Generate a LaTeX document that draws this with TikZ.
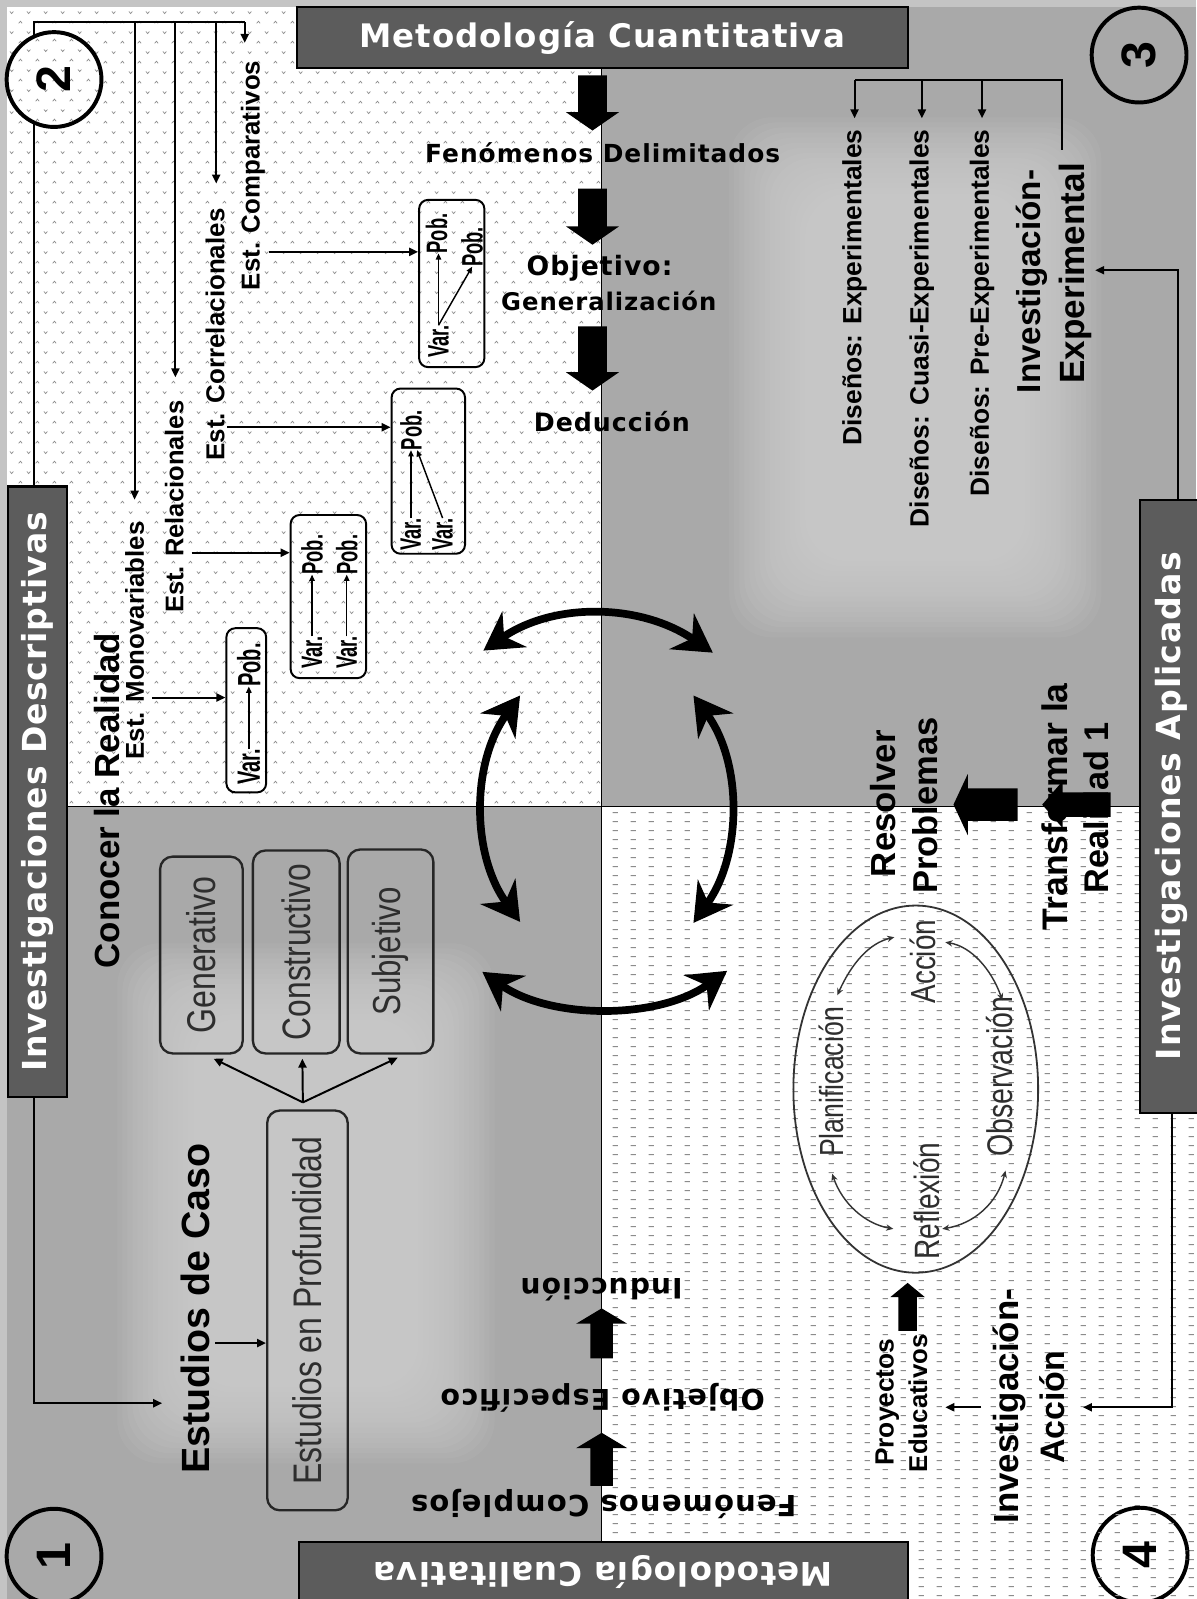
\documentclass[tikz,border=0pt]{standalone}
\usepackage{fontspec}
\usepackage{graphicx}
\usetikzlibrary{arrows.meta,patterns,shapes.geometric,calc}
\setmainfont{Liberation Sans}
\newfontfamily\fN[FakeStretch=0.8]{Liberation Sans}
\newfontfamily\fV[FakeStretch=0.62]{Liberation Sans}
\newfontfamily\fT[LetterSpace=4]{DejaVu Sans}
\newfontfamily\fH[LetterSpace=3]{DejaVu Sans}

\definecolor{framec}{HTML}{C4C4C4}
\definecolor{qgray}{HTML}{A9A9A9}
\definecolor{qlight}{HTML}{D6D6D6}
\definecolor{barfill}{HTML}{5C5C5C}
\definecolor{inktxt}{HTML}{2E2E2E}

% small caret marks for the upper-left quadrant
\pgfdeclarepatternformonly{carets}{\pgfqpoint{0pt}{0pt}}{\pgfqpoint{9.6pt}{11.2pt}}{\pgfqpoint{9.6pt}{11.2pt}}{%
  \pgfsetlinewidth{0.4pt}%
  \pgfpathmoveto{\pgfqpoint{1pt}{8pt}}\pgfpathlineto{\pgfqpoint{2pt}{9.2pt}}\pgfpathlineto{\pgfqpoint{3pt}{8pt}}%
  \pgfpathmoveto{\pgfqpoint{5.8pt}{3.2pt}}\pgfpathlineto{\pgfqpoint{6.8pt}{2pt}}\pgfpathlineto{\pgfqpoint{7.8pt}{3.2pt}}%
  \pgfusepath{stroke}}
% short dashes for the lower-right quadrant
\pgfdeclarepatternformonly{dashmarks}{\pgfqpoint{0pt}{0pt}}{\pgfqpoint{10pt}{5.2pt}}{\pgfqpoint{10pt}{5.2pt}}{%
  \pgfsetlinewidth{0.5pt}%
  \pgfpathmoveto{\pgfqpoint{2pt}{2.6pt}}\pgfpathlineto{\pgfqpoint{5pt}{2.6pt}}%
  \pgfusepath{stroke}}

\newlength\U \setlength\U{0.02cm}
\newcommand\pxu[1]{#1*0.02cm}
\newcommand\fitw[2]{\resizebox{#1\U}{!}{#2}}
\newcommand\upw[2]{\rotatebox{90}{\fitw{#1}{#2}}}
\newcommand\flipw[2]{\rotatebox{180}{\fitw{#1}{#2}}}
% block arrow: tip coordinate, direction, total length, head length, shaft half width, head half width
\newcommand\blockarrow[6]{%
  \fill[shift={(#1)},rotate=#2] (0,0) -- (-#4,#6) -- (-#4,#5) -- (-#3,#5) -- (-#3,-#5) -- (-#4,-#5) -- (-#4,-#6) -- cycle;}
% soft lighter patch built from many faint layers: left, top, right, bottom
\newcommand\softpatch[4]{%
  \foreach \k in {0,...,15}
    \fill[qlight,opacity=0.085,rounded corners=24pt] (#1-\k*5,#2-\k*5) rectangle (#3+\k*5,#4+\k*5);}

\begin{document}
\begin{tikzpicture}[x=0.02cm,y=-0.02cm,
  lab/.style={inner sep=0pt,outer sep=0pt},
  conn/.style={line width=1.1pt,black},
  tri/.style={-{Triangle[length=5pt,width=4.5pt]}},
  mini/.style={line width=0.8pt,black,-{Triangle[length=3.5pt,width=3pt]}},
  qbox/.style={draw=black,line width=1.1pt,rounded corners=5pt,inner sep=0pt},
  gbox/.style={draw=black!85,line width=1.3pt,rounded corners=7pt,inner sep=0pt,text=inktxt},
  bar/.style={draw=black,line width=1.2pt,fill=barfill,inner sep=0pt,text=white},
  num/.style={draw=black,line width=2.2pt,circle,inner sep=0pt,minimum size={\pxu{93}}},
  bigarc/.style={line width=4.3pt,{Stealth[length=21pt,width=24pt,inset=7pt]}-{Stealth[length=21pt,width=24pt,inset=7pt]}},
  ring/.style={line width=0.8pt,black!80,{Stealth[length=4pt,width=3.5pt]}-{Stealth[length=4pt,width=3.5pt]}},
]
\useasboundingbox (0,0) rectangle (1173,1568);

% ---------- quadrant backgrounds ----------
\fill[framec] (0,0) rectangle (1173,1568);
\fill[white] (7,7) rectangle (590,791);
\fill[pattern=carets,pattern color=black!45] (7,7) rectangle (590,791);
\fill[white] (590,791) rectangle (1173,1568);
\fill[pattern=dashmarks,pattern color=black!45] (590,791) rectangle (1173,1568);
\fill[qgray] (590,7) rectangle (1173,791);
\fill[qgray] (7,791) rectangle (590,1568);
\begin{scope}
  \clip (590,7) rectangle (1173,791);
  \softpatch{790}{190}{1005}{550}
\end{scope}
\begin{scope}
  \clip (7,791) rectangle (590,1568);
  \softpatch{190}{1000}{410}{1360}
\end{scope}
\draw[line width=0.9pt] (590,60) -- (590,1515);
\draw[line width=0.9pt] (60,791) -- (1120,791);

% ---------- title bars ----------
\node[bar,minimum width={\pxu{599}},minimum height={\pxu{60}}] (hdrCuan) at (590.5,37)
  {\fitw{476}{\fH\bfseries Metodología Cuantitativa}};
\node[bar,minimum width={\pxu{597}},minimum height={\pxu{60}}] (hdrCual) at (591.5,1542)
  {\flipw{450}{\fH\bfseries Metodología Cualitativa}};
\node[bar,minimum width={\pxu{58}},minimum height={\pxu{599}}] (barDesc) at (37,776.5)
  {\upw{549}{\fH\bfseries Investigaciones Descriptivas}};
\node[bar,minimum width={\pxu{62}},minimum height={\pxu{601}}] (barApl) at (1149,790.5)
  {\upw{498}{\fH\bfseries Investigaciones Aplicadas}};

% ---------- descriptive studies tree ----------
\coordinate (tr0) at (33,22);
\coordinate (tMono) at (132,490);
\coordinate (tRel) at (172,370);
\coordinate (tCorr) at (212,180);
\coordinate (tComp) at (240,42);
\draw[conn] (tr0 |- barDesc.north) -- (tr0) -- (tr0 -| tComp);
\foreach \t in {tMono,tRel,tCorr,tComp} \draw[conn,tri] (tr0 -| \t) -- (\t);

\node[lab] (lblMono) at (132,628) {\upw{233}{\bfseries Est. Monovariables}};
\node[lab] (lblRel) at (171,497) {\upw{208}{\bfseries Est. Relacionales}};
\node[lab] (lblCorr) at (211,328) {\upw{247}{\bfseries Est. Correlacionales}};
\node[lab] (lblComp) at (248,172) {\upw{225}{\bfseries Est. Comparativos}};
\node[lab] (conocer) at (105,785) {\upw{329}{\bfseries Conocer la Realidad}};

\node[qbox,minimum width={\pxu{39}},minimum height={\pxu{161}}] (box1) at (241.5,696.5) {};
\node[qbox,minimum width={\pxu{74}},minimum height={\pxu{160}}] (box2) at (322,585) {};
\node[qbox,minimum width={\pxu{72}},minimum height={\pxu{162}}] (box3) at (420,462) {};
\node[qbox,minimum width={\pxu{64}},minimum height={\pxu{164}}] (box4) at (443,278) {};

\coordinate (aMono) at (149,684);
\coordinate (aRel) at (188,542);
\coordinate (aCorr) at (223,419);
\coordinate (aComp) at (264,247);
\draw[conn,tri] (aMono) -- (aMono -| box1.west);
\draw[conn,tri] (aRel) -- (aRel -| box2.west);
\draw[conn,tri] (aCorr) -- (aCorr -| box3.west);
\draw[conn,tri] (aComp) -- (aComp -| box4.west);

\node[lab] (v1) at (244,752) {\rotatebox{90}{\fontsize{18}{18}\fV\bfseries Var.}};
\node[lab] (p1) at (244,652) {\rotatebox{90}{\fontsize{18}{18}\fV\bfseries Pob.}};
\draw[mini] (v1.north) -- (p1.south);
\node[lab] (v2a) at (306,640) {\rotatebox{90}{\fontsize{16.5}{16.5}\fV\bfseries Var.}};
\node[lab] (p2a) at (306,544) {\rotatebox{90}{\fontsize{16.5}{16.5}\fV\bfseries Pob.}};
\node[lab] (v2b) at (340,640) {\rotatebox{90}{\fontsize{16.5}{16.5}\fV\bfseries Var.}};
\node[lab] (p2b) at (340,544) {\rotatebox{90}{\fontsize{16.5}{16.5}\fV\bfseries Pob.}};
\draw[mini] (v2a.north) -- (p2a.south);
\draw[mini] (v2b.north) -- (p2b.south);
\node[lab] (p3) at (403,422) {\rotatebox{90}{\fontsize{16.5}{16.5}\fV\bfseries Pob.}};
\node[lab] (v3a) at (403,524) {\rotatebox{90}{\fontsize{16.5}{16.5}\fV\bfseries Var.}};
\node[lab] (v3b) at (434,524) {\rotatebox{90}{\fontsize{16.5}{16.5}\fV\bfseries Var.}};
\draw[mini] (v3a.north) -- (v3a.north |- p3.south);
\draw[mini] (v3b.north) -- ($(p3.south)+(6,0)$);
\node[lab] (v4) at (430,335) {\rotatebox{90}{\fontsize{16.5}{16.5}\fV\bfseries Var.}};
\node[lab] (p4a) at (428,229) {\rotatebox{90}{\fontsize{16.5}{16.5}\fV\bfseries Pob.}};
\node[lab] (p4b) at (463,242) {\rotatebox{90}{\fontsize{16.5}{16.5}\fV\bfseries Pob.}};
\draw[mini] (v4.north) -- (v4.north |- p4a.south);
\draw[mini] (v4.north) -- (p4b.south);

% ---------- quantitative column ----------
\node[lab,anchor=base] (fenDel) at (591,159) {\fitw{348}{\fT\bfseries Fenómenos Delimitados}};
\node[lab,anchor=base] (objGen1) at (588,270) {\fitw{143}{\fT\bfseries Objetivo:}};
\node[lab,anchor=base] (objGen2) at (597,304) {\fitw{211}{\fT\bfseries Generalización}};
\node[lab,anchor=base] (deduc) at (600,423) {\fitw{153}{\fT\bfseries Deducción}};
\coordinate (bd1) at (581,128);
\coordinate (bd2) at (581,240);
\coordinate (bd3) at (581,383);
\blockarrow{bd1}{-90}{54}{18}{14}{26}
\blockarrow{bd2}{-90}{55}{18}{14}{26}
\blockarrow{bd3}{-90}{63}{18}{14}{26}

% ---------- experimental designs ----------
\coordinate (dz1) at (838,116);
\coordinate (dz2) at (904,116);
\coordinate (dz3) at (963,116);
\coordinate (brR) at (1041,78);
\coordinate (brRb) at (1041,147);
\draw[conn] (brRb) -- (brR) -- (brR -| dz1);
\foreach \t in {dz1,dz2,dz3} \draw[conn,tri] (brR -| \t) -- (\t);
\node[lab] (dis1) at (838,282) {\upw{310}{\bfseries Diseños: Experimentales}};
\node[lab] (dis2) at (904,322) {\upw{390}{\bfseries Diseños: Cuasi-Experimentales}};
\node[lab] (dis3) at (963,307) {\upw{360}{\bfseries Diseños: Pre-Experimentales}};
\node[lab] (invE1) at (1012,276) {\upw{219}{\bfseries Investigación-}};
\node[lab] (invE2) at (1055,268) {\upw{216}{\bfseries Experimental}};
\coordinate (aplU) at (1155,265);
\coordinate (aplUt) at (1074,265);
\draw[conn,tri] (aplU |- barApl.north) -- (aplU) -- (aplUt);

% ---------- action research ----------
\node[draw=black!80,line width=1pt,ellipse,minimum width={\pxu{240}},minimum height={\pxu{360}},inner sep=0pt] (cyc) at (898,1068) {};
\node[lab,text=inktxt] (plan) at (815,1061) {\upw{147}{\fN Planificación}};
\node[lab,text=inktxt] (acc) at (905,943) {\upw{82}{\fN Acción}};
\node[lab,text=inktxt] (obs) at (980,1056) {\upw{157}{\fN Observación}};
\node[lab,text=inktxt] (refl) at (909,1178) {\upw{115}{\fN Reflexión}};
\coordinate (r1a) at (821,976);  \coordinate (r1b) at (877,919);
\coordinate (r2a) at (927,924);  \coordinate (r2b) at (983,981);
\coordinate (r3a) at (986,1148); \coordinate (r3b) at (924,1205);
\coordinate (r4a) at (816,1151); \coordinate (r4b) at (876,1205);
\draw[ring] (r1a) .. controls (835,945) and (852,925) .. (r1b);
\draw[ring] (r2a) .. controls (952,928) and (972,950) .. (r2b);
\draw[ring] (r3a) .. controls (978,1180) and (955,1200) .. (r3b);
\draw[ring] (r4a) .. controls (826,1180) and (848,1200) .. (r4b);

\node[lab] (resA) at (866,788) {\upw{144}{\bfseries Resolver}};
\node[lab] (resB) at (907,790) {\upw{173}{\bfseries Problemas}};
\coordinate (resTip) at (935,789);
\blockarrow{resTip}{180}{63}{14}{16}{30}
\node[lab] (trA) at (1034,791) {\upw{242}{\bfseries Transformar la}};
\node[lab] (trB) at (1075,792) {\upw{168}{\bfseries Realidad 1}};
\coordinate (trTip) at (1022,789);
\blockarrow{trTip}{180}{67}{20}{12}{23}

\node[lab] (proy1) at (870,1375) {\upw{125}{\bfseries Proyectos}};
\node[lab] (proy2) at (900,1376) {\upw{135}{\bfseries Educativos}};
\coordinate (proyTip) at (890,1258);
\blockarrow{proyTip}{90}{47}{14}{9}{17}
\node[lab] (invA1) at (990,1379) {\upw{230}{\bfseries Investigación-}};
\node[lab] (invA2) at (1032,1380) {\upw{111}{\bfseries Acción}};
\coordinate (iaA) at (962,1380);
\coordinate (iaB) at (927,1380);
\draw[conn,tri] (iaA) -- (iaB);
\coordinate (aplD) at (1149,1380);
\coordinate (aplDt) at (1062,1380);
\draw[conn,tri] (aplD |- barApl.south) -- (aplD) -- (aplDt);

% ---------- case studies ----------
\node[gbox,minimum width={\pxu{81}},minimum height={\pxu{193}}] (gen) at (197.5,936.5) {\upw{154}{\fN Generativo}};
\node[gbox,minimum width={\pxu{85}},minimum height={\pxu{199}}] (con) at (290.5,933.5) {\upw{173}{\fN Constructivo}};
\node[gbox,minimum width={\pxu{84}},minimum height={\pxu{200}}] (sub) at (383,933) {\upw{126}{\fN Subjetivo}};
\node[gbox,minimum width={\pxu{79}},minimum height={\pxu{392}}] (prof) at (301.5,1285) {\upw{341}{\fN Estudios en Profundidad}};
\coordinate (profTop) at (297,1081);
\draw[conn,tri] (profTop) -- ($(gen.south)+(12,4)$);
\draw[conn,tri] (profTop) -- ($(con.south)+(6,4)$);
\draw[conn,tri] (profTop) -- ($(sub.south)+(7,3)$);
\node[lab] (caso) at (192,1283) {\upw{324}{\bfseries Estudios de Caso}};
\coordinate (casoA) at (211,1317);
\draw[conn,tri] (casoA) -- (casoA -| prof.west);
\coordinate (dL) at (33,1376);
\coordinate (dLt) at (159,1376);
\draw[conn,tri] (dL |- barDesc.south) -- (dL) -- (dLt);

% ---------- qualitative column (upside down) ----------
\node[lab] (induc) at (590,1265) {\flipw{159}{\fT\bfseries Inducción}};
\node[lab] (objEsp) at (591,1371) {\flipw{318}{\fT\bfseries Objetivo Específico}};
\node[lab] (fenComp) at (592,1475) {\flipw{378}{\fT\bfseries Fenómenos Complejos}};
\coordinate (bu1) at (590,1283);
\coordinate (bu2) at (590,1405);
\blockarrow{bu1}{90}{49}{15}{11}{25}
\blockarrow{bu2}{90}{52}{15}{11}{25}

% ---------- numbered circles ----------
\node[num,fill=white,postaction={pattern=carets,pattern color=black!45}] (c2) at (53,78) {\rotatebox{90}{\fontsize{27}{27}\selectfont\bfseries 2}};
\node[num,fill=qgray] (c1) at (53,1526) {\rotatebox{90}{\fontsize{27}{27}\selectfont\bfseries 1}};
\node[num,fill=qgray] (c3) at (1117,54) {\rotatebox{90}{\fontsize{27}{27}\selectfont\bfseries 3}};
\node[num,fill=white,postaction={pattern=dashmarks,pattern color=black!45}] (c4) at (1118,1525) {\rotatebox{90}{\fontsize{27}{27}\selectfont\bfseries 4}};

% ---------- central cycle ----------
\coordinate (cT1) at (474,638); \coordinate (cT2) at (699,640);
\coordinate (cL1) at (510,682); \coordinate (cL2) at (510,904);
\coordinate (cR1) at (680,682); \coordinate (cR2) at (680,905);
\coordinate (cB1) at (473,953); \coordinate (cB2) at (713,952);
\draw[bigarc] (cT1) .. controls (544,590) and (629,592) .. (cT2);
\draw[bigarc] (cL1) .. controls (462,748) and (462,838) .. (cL2);
\draw[bigarc] (cR1) .. controls (728,748) and (728,838) .. (cR2);
\draw[bigarc] (cB1) .. controls (540,1000) and (646,1000) .. (cB2);
\end{tikzpicture}
\end{document}
